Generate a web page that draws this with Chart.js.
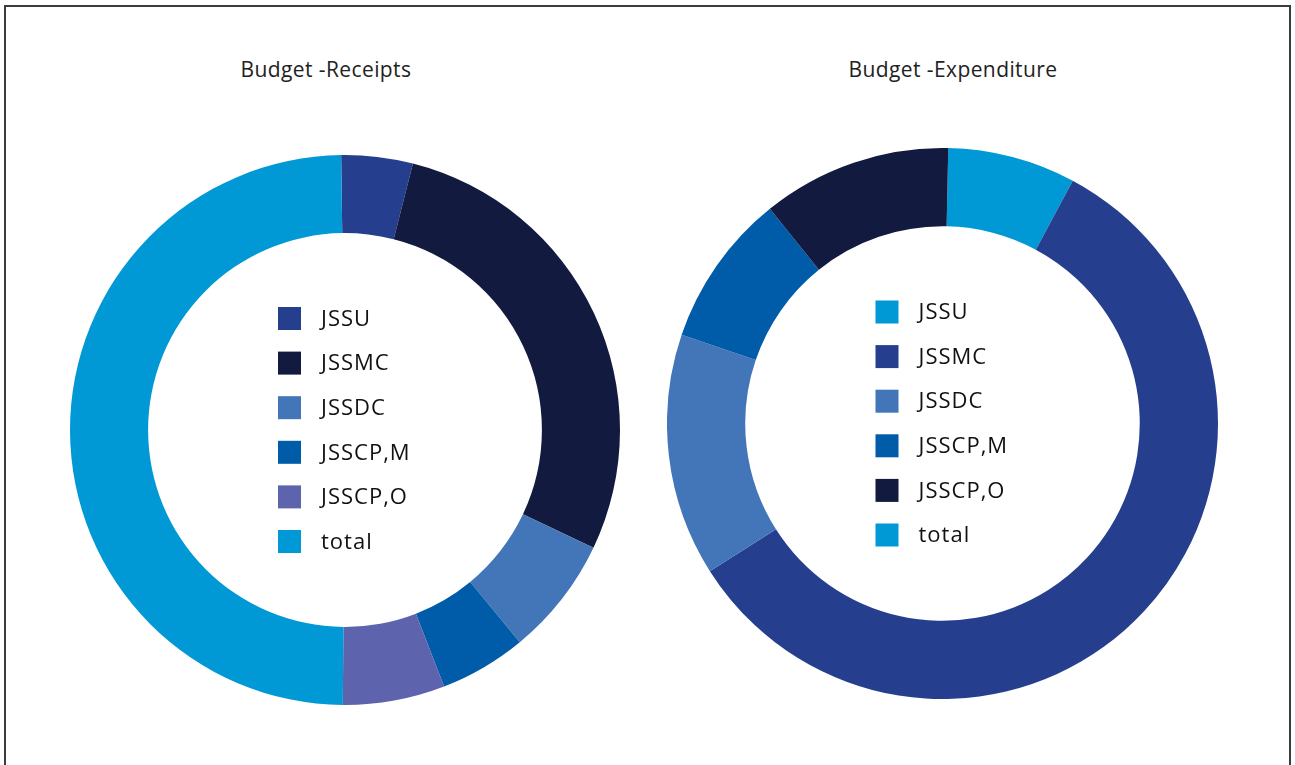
<!DOCTYPE html>
<html>
<head>
<meta charset="utf-8">
<script src="https://cdn.jsdelivr.net/npm/chart.js@4"></script>
<style>
  html, body { margin: 0; padding: 0; background: #fff; overflow: hidden; }
  body { width: 1295px; height: 765px; position: relative; font-family: "Open Sans", sans-serif; }
  #frame { position: absolute; left: 4px; top: 5px; width: 1287px; height: 800px; border: 2px solid #3c3c3c; box-sizing: border-box; }
  .title { position: absolute; font-size: 21px; letter-spacing: 0.4px; color: #222; white-space: nowrap; transform: translateX(-50%); }
  .box { position: absolute; }
</style>
</head>
<body>
<div id="frame"></div>
<div class="title" style="left:326px; top:55px;">Budget -Receipts</div>
<div class="title" style="left:953px; top:55px;">Budget -Expenditure</div>
<div class="box" style="left:70px; top:155px; width:550px; height:550px;"><canvas id="receiptsChart"></canvas></div>
<div class="box" style="left:667px; top:148px; width:551px; height:551px;"><canvas id="expenditureChart"></canvas></div>
<script>
var labels = ["JSSU", "JSSMC", "JSSDC", "JSSCP,M", "JSSCP,O", "total"];

// values (share of each ring)
var receipts = [4.2, 28.1, 7.0, 5.1, 6.0, 49.7];
var expenditure = [7.5, 58.1, 14.2, 9.0, 11.1, 0];

var receiptColors = ["#253f8e", "#131a40", "#4276b9", "#005ba9", "#5e63ad", "#0099d6"];
var expenditureColors = ["#0099d6", "#253f8e", "#4276b9", "#005ba9", "#131a40", "#0099d6"];

// legend drawn inside the hole of the doughnut
var centerLegend = {
    id: 'centerLegend',
    afterDraw: function(chart) {
        var meta = chart.getDatasetMeta(0);
        var arc = meta.data[0];
        var cx = arc.x, cy = arc.y;
        var ctx = chart.ctx;
        var colors = chart.data.datasets[0].backgroundColor;
        ctx.save();
        ctx.font = '22px "Open Sans", sans-serif';
        ctx.letterSpacing = '1px';
        ctx.textBaseline = 'middle';
        chart.data.labels.forEach(function(lab, i) {
            var top = cy - 123 + i * 44.6;
            ctx.fillStyle = colors[i];
            ctx.fillRect(cx - 67, top, 23, 23);
            ctx.fillStyle = '#111';
            ctx.fillText(lab, cx - 24, top + 12.5);
        });
        ctx.restore();
    }
};

function renderDoughnut(id, data, colors, rot) {
    var ctx = document.getElementById(id).getContext('2d');
    return new Chart(ctx, {
        type: 'doughnut',
        data: {
            labels: labels,
            datasets: [{
                data: data,
                backgroundColor: colors,
                borderWidth: 0
            }]
        },
        options: {
            responsive: true,
            maintainAspectRatio: false,
            animation: false,
            rotation: rot,
            cutout: '71.6%',
            layout: { padding: 0 },
            plugins: {
                legend: { display: false },
                tooltip: { enabled: false }
            }
        },
        plugins: [centerLegend]
    });
}

renderDoughnut("receiptsChart", receipts, receiptColors, -0.8);
renderDoughnut("expenditureChart", expenditure, expenditureColors, 1.2);
</script>
</body>
</html>
